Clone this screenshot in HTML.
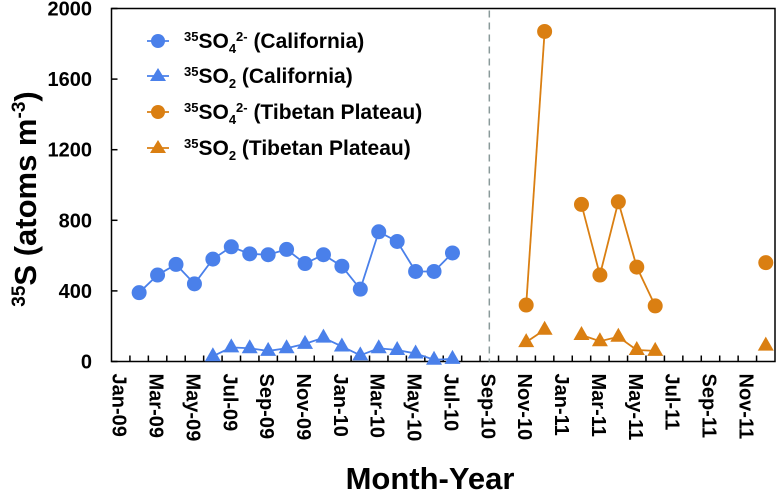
<!DOCTYPE html>
<html><head><meta charset="utf-8"><style>
body{margin:0;background:#fff;}
svg text{font-family:"Liberation Sans",Arial,sans-serif;font-weight:bold;}
</style></head><body>
<svg id="chart" width="776" height="490" viewBox="0 0 776 490" xmlns="http://www.w3.org/2000/svg">
<g id="plot"></g>
</svg>
<script>
const months = ["Jan","Feb","Mar","Apr","May","Jun","Jul","Aug","Sep","Oct","Nov","Dec"];
const years = ["09","10","11"];
const yTicks = [0,400,800,1200,1600,2000];
// category index = months since Jan-09
const caSO4Idx = [1,2,3,4,5,6,7,8,9,10,11,12,13,14,15,16,17,18];
const caSO4Val = [390,490,550,440,580,650,610,605,635,555,605,540,410,735,680,510,510,615];
const caSO2Idx = [5,6,7,8,9,10,11,12,13,14,15,16,17,18];
const caSO2Val = [30,80,75,60,75,100,135,85,35,75,65,45,10,15];
const tpSO4Segs = [[22,23],[25,26,27,28,29],[35]];
const tpSO4Idx = [22,23,25,26,27,28,29,35];
const tpSO4Val = [320,1870,890,490,905,535,315,560];
const tpSO2Segs = [[22,23],[25,26,27,28,29],[35]];
const tpSO2Idx = [22,23,25,26,27,28,29,35];
const tpSO2Val = [110,180,150,115,140,65,60,90];

const L=111.5,R=775,T=8.5,B=361.5,N=36;
const cw=(R-L)/N;
const xs=i=>L+cw*(i+0.5);
const ys=v=>B-(v/2000)*(B-T);
const NS="http://www.w3.org/2000/svg";
const g=document.getElementById('plot');
function mk(tag,attrs,parent){const e=document.createElementNS(NS,tag);for(const k in attrs)e.setAttribute(k,attrs[k]);(parent||g).appendChild(e);return e;}
const BLUE="#4a80ea",ORANGE="#da7f12";

let e=mk('rect',{x:L,y:T,width:R-L,height:B-T,fill:'none',stroke:'#000','stroke-width':1.5});


e=mk('line',{x1:xs(20),x2:xs(20),y1:T+2,y2:B,stroke:'#8a9a9a','stroke-width':1.5,'stroke-dasharray':'7,5'});


yTicks.forEach(v=>{
  let t=mk('line',{x1:L,x2:L+6,y1:ys(v),y2:ys(v),stroke:'#000','stroke-width':1.5});
  
  
  let tx=mk('text',{x:92,y:ys(v)+7,'text-anchor':'end','font-size':20});
  tx.textContent=v;
  
  
});
for(let i=1;i<N;i++){
  let t=mk('line',{x1:L+cw*i,x2:L+cw*i,y1:B,y2:B-6,stroke:'#000','stroke-width':1.5});
  
  
}
for(let i=0;i<N;i+=2){
  const lab=months[i%12]+"-"+years[Math.floor(i/12)];
  const x=xs(i)-8,y=B+12;
  let tx=mk('text',{x:0,y:0,'font-size':20,transform:`translate(${x},${y}) rotate(90)`});
  tx.textContent=lab;
  
  
}
function line(idx,val,color,name){
  const pts=idx.map((i,k)=>xs(i)+","+ys(val[k])).join(" ");
  let p=mk('polyline',{points:pts,fill:'none',stroke:color,'stroke-width':1.8});
  
  
}
function circ(x,y,color,name){let c=mk('circle',{cx:x,cy:y,r:7.5,fill:color});}
function tri(x,y,color,name){let c=mk('polygon',{points:`${x},${y-9} ${x-8},${y+5} ${x+8},${y+5}`,fill:color});}
function segLines(segs,idx,val,color,name){
  segs.forEach(s=>{if(s.length<2)return;const v=s.map(i=>val[idx.indexOf(i)]);line(s,v,color,name);});
}
line(caSO2Idx,caSO2Val,BLUE,'ca-so2-line');
caSO2Idx.forEach((i,k)=>tri(xs(i),ys(caSO2Val[k]),BLUE,'ca-so2-point'));
line(caSO4Idx,caSO4Val,BLUE,'ca-so4-line');
caSO4Idx.forEach((i,k)=>circ(xs(i),ys(caSO4Val[k]),BLUE,'ca-so4-point'));
segLines(tpSO2Segs,tpSO2Idx,tpSO2Val,ORANGE,'tp-so2-line');
tpSO2Idx.forEach((i,k)=>tri(xs(i),ys(tpSO2Val[k]),ORANGE,'tp-so2-point'));
segLines(tpSO4Segs,tpSO4Idx,tpSO4Val,ORANGE,'tp-so4-line');
tpSO4Idx.forEach((i,k)=>circ(xs(i),ys(tpSO4Val[k]),ORANGE,'tp-so4-point'));
</script>
<svg width="776" height="490" style="position:absolute;left:0;top:0" xmlns="http://www.w3.org/2000/svg">
<g>
 <g>
  <line x1="147" x2="169" y1="41" y2="41" stroke="#4a80ea" stroke-width="1.8"/>
  <circle cx="158" cy="41" r="7" fill="#4a80ea"/>
  <text x="184" y="48" font-size="21" font-family="Liberation Sans, sans-serif" font-weight="bold"><tspan font-size="13" dy="-7">35</tspan><tspan dy="7">SO</tspan><tspan font-size="13" dy="5">4</tspan><tspan font-size="13" dy="-12">2-</tspan><tspan dy="7"> (California)</tspan></text>
 </g>
 <g>
  <line x1="147" x2="169" y1="76" y2="76" stroke="#4a80ea" stroke-width="1.8"/>
  <polygon points="158,68 150,81 166,81" fill="#4a80ea"/>
  <text x="184" y="83" font-size="21" font-family="Liberation Sans, sans-serif" font-weight="bold"><tspan font-size="13" dy="-7">35</tspan><tspan dy="7">SO</tspan><tspan font-size="13" dy="5">2</tspan><tspan dy="-5"> (California)</tspan></text>
 </g>
 <g>
  <line x1="147" x2="169" y1="112" y2="112" stroke="#da7f12" stroke-width="1.8"/>
  <circle cx="158" cy="112" r="7" fill="#da7f12"/>
  <text x="184" y="119" font-size="21" font-family="Liberation Sans, sans-serif" font-weight="bold"><tspan font-size="13" dy="-7">35</tspan><tspan dy="7">SO</tspan><tspan font-size="13" dy="5">4</tspan><tspan font-size="13" dy="-12">2-</tspan><tspan dy="7"> (Tibetan Plateau)</tspan></text>
 </g>
 <g>
  <line x1="147" x2="169" y1="148" y2="148" stroke="#da7f12" stroke-width="1.8"/>
  <polygon points="158,140 150,153 166,153" fill="#da7f12"/>
  <text x="184" y="155" font-size="21" font-family="Liberation Sans, sans-serif" font-weight="bold"><tspan font-size="13" dy="-7">35</tspan><tspan dy="7">SO</tspan><tspan font-size="13" dy="5">2</tspan><tspan dy="-5"> (Tibetan Plateau)</tspan></text>
 </g>
</g>
<text transform="translate(36,199) rotate(-90)" text-anchor="middle" font-size="31" font-family="Liberation Sans, sans-serif" font-weight="bold"><tspan font-size="19" dy="-11">35</tspan><tspan dy="11">S (atoms m</tspan><tspan font-size="19" dy="-11">-3</tspan><tspan dy="11">)</tspan></text>
<text x="430" y="489" text-anchor="middle" font-size="31" font-family="Liberation Sans, sans-serif" font-weight="bold">Month-Year</text>
</svg>
</body></html>
